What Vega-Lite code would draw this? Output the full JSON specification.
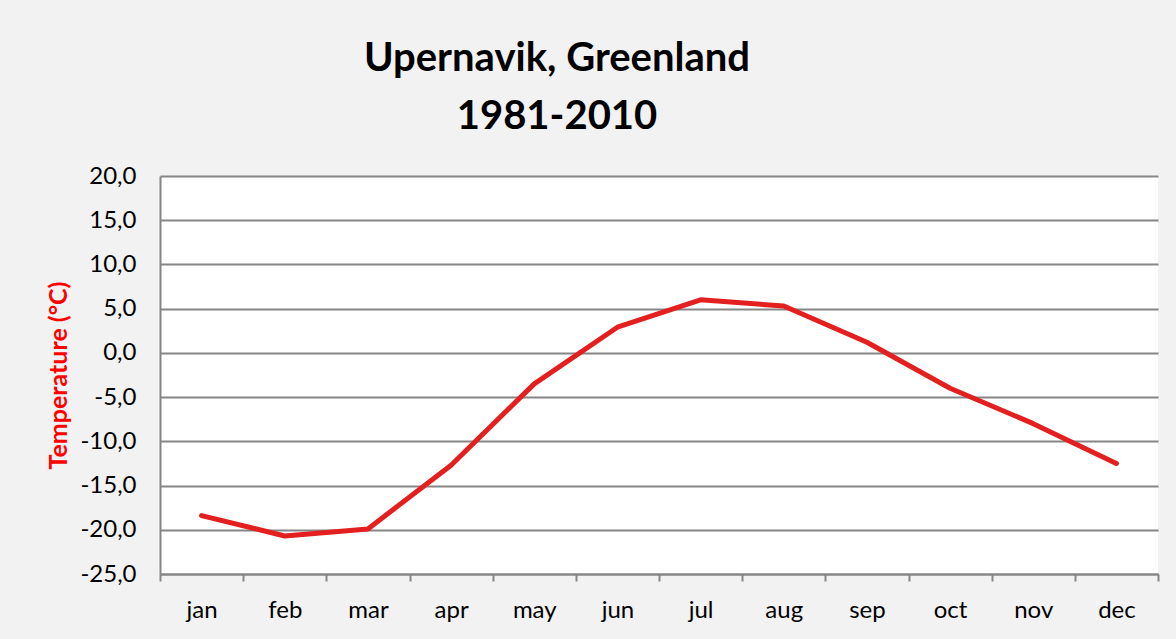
{
  "$schema": "https://vega.github.io/schema/vega-lite/v6.json",
  "width": 998,
  "height": 398,
  "autosize": "none",
  "padding": {"left": 160, "top": 176, "right": 18, "bottom": 65},
  "background": "#f2f2f2",
  "title": {
    "text": ["Upernavik, Greenland", "1981-2010"],
    "font": "Lato",
    "fontSize": 40,
    "fontWeight": "bold",
    "color": "black",
    "lineHeight": 58,
    "anchor": "middle",
    "dx": -102,
    "offset": 27
  },
  "config": {"view": {"fill": "white", "stroke": null}},
  "data": {
    "values": [
      {"month": "jan", "temp": -18.4},
      {"month": "feb", "temp": -20.7},
      {"month": "mar", "temp": -19.9},
      {"month": "apr", "temp": -12.7},
      {"month": "may", "temp": -3.5},
      {"month": "jun", "temp": 2.9},
      {"month": "jul", "temp": 6.0},
      {"month": "aug", "temp": 5.3},
      {"month": "sep", "temp": 1.2},
      {"month": "oct", "temp": -4.0},
      {"month": "nov", "temp": -8.0},
      {"month": "dec", "temp": -12.5}
    ]
  },
  "mark": {"type": "line", "color": "#e31f1f", "strokeWidth": 5, "strokeCap": "round", "strokeJoin": "round"},
  "encoding": {
    "x": {
      "field": "month",
      "type": "ordinal",
      "sort": null,
      "scale": {"type": "band", "paddingInner": 0, "paddingOuter": 0},
      "axis": {
        "title": null,
        "labelAngle": 0,
        "tickBand": "extent",
        "grid": false,
        "domainColor": "#868686",
        "domainWidth": 2,
        "tickColor": "#868686",
        "tickWidth": 2,
        "tickSize": 7,
        "labelFont": "Lato",
        "labelFontSize": 24,
        "labelColor": "black",
        "labelPadding": 17
      }
    },
    "y": {
      "field": "temp",
      "type": "quantitative",
      "scale": {"domain": [-25, 20], "nice": false, "zero": false},
      "axis": {
        "values": [-25, -20, -15, -10, -5, 0, 5, 10, 15, 20],
        "labelExpr": "replace(replace(format(datum.value, '.1f'), '.', ','), '\u2212', '-')",
        "title": "Temperature (°C)",
        "titleColor": "#ff0000",
        "titleFont": "Lato",
        "titleFontSize": 25,
        "titleFontWeight": "bold",
        "titlePadding": 8,
        "ticks": false,
        "gridColor": "#868686",
        "gridWidth": 2,
        "domainColor": "#868686",
        "domainWidth": 2,
        "labelFont": "Lato",
        "labelFontSize": 24,
        "labelPadding": 24,
        "labelColor": "black"
      }
    }
  }
}
